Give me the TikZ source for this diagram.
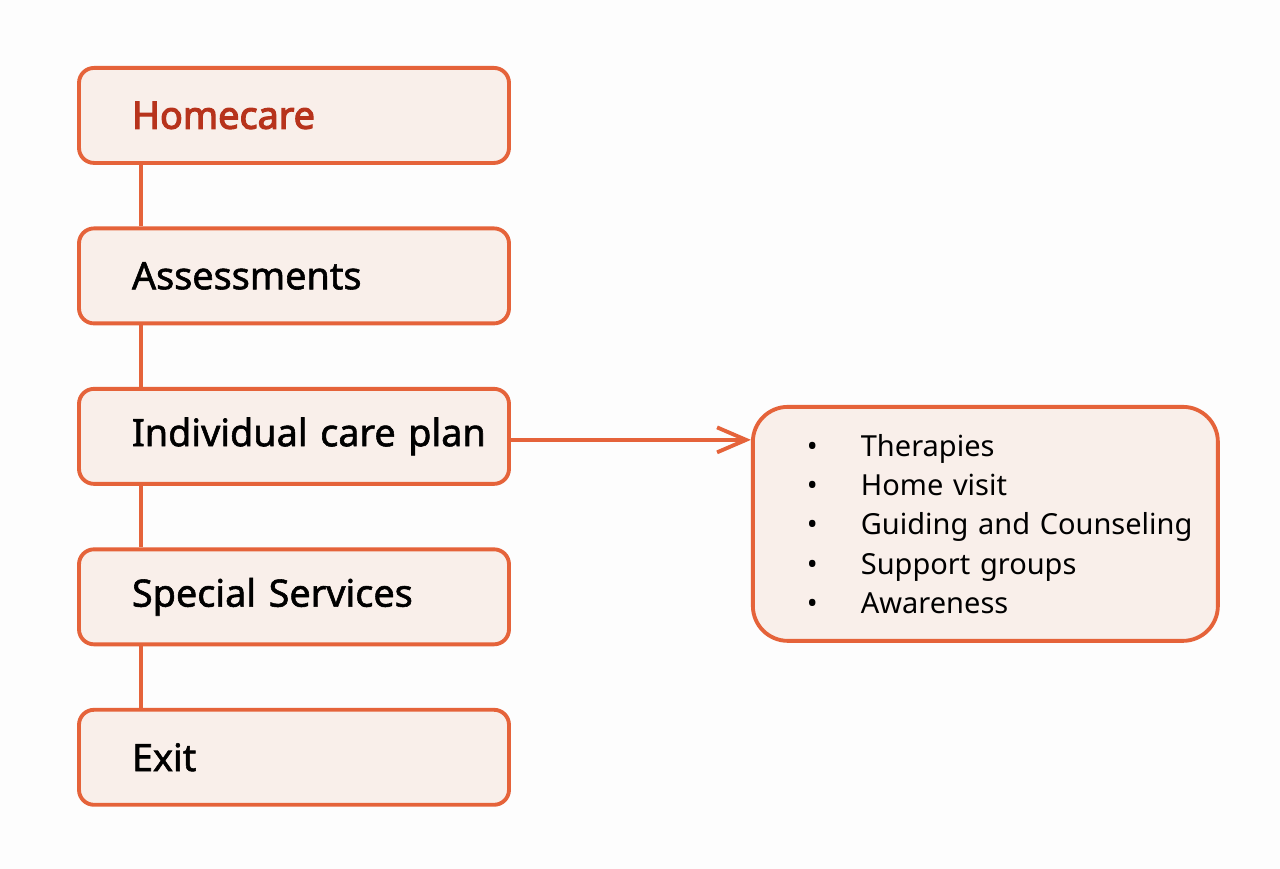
\documentclass[tikz,border=0pt]{standalone}
\usepackage{fontspec}
\setmainfont{Noto Sans}
\newfontfamily\labelfont{Noto Sans}[FakeBold=1.5]
\newfontfamily\headfont{Noto Sans}[FakeBold=3]
\usepackage{xcolor}
\usetikzlibrary{positioning}
\usetikzlibrary{arrows.meta}
\definecolor{careorange}{HTML}{E5633A}
\definecolor{carefill}{HTML}{F9EFEA}
\definecolor{carered}{HTML}{B7331C}
\newcommand{\careitem}[1]{\hspace*{0.78cm}\makebox[1.08cm][l]{•}#1}

\begin{document}
\begin{tikzpicture}[
    stage/.style={draw=careorange, fill=carefill, line width=2.2pt, rounded corners=0.3cm,
      minimum height=1.9cm, text width=7.96cm, inner xsep=0.32cm, align=left,
      font=\labelfont\fontsize{21.5}{26}\selectfont},
    link/.style={draw=careorange, line width=2.2pt}]
    \useasboundingbox[fill=white!99.3!black] (0,0) rectangle (25.6,-17.38);
    \node(homecare) [stage, anchor=north, text=carered, font=\headfont\fontsize{21.5}{26}\selectfont] at (5.88,-1.32) {\hspace*{0.74cm}Homecare};
    \node(assess) [stage, below = 1.232cm of homecare] {\hspace*{0.74cm}Assessments};
    \node(plan) [stage, below = 1.232cm of assess] {\hspace*{0.74cm}Individual care plan};
    \node(special) [stage, below = 1.232cm of plan] {\hspace*{0.74cm}Special Services};
    \node(exit) [stage, below = 1.232cm of special] {\hspace*{0.74cm}Exit};
    \node(services) [right = 4.8cm of plan, yshift=-1.75cm, draw=careorange, fill=carefill,
      line width=2.2pt, rounded corners=0.7cm, minimum height=4.68cm, text width=8.7cm,
      inner xsep=0.3cm, align=left, font=\fontsize{16.5}{22.4}\selectfont]
      {\careitem{Therapies}\\ \careitem{Home visit}\\ \careitem{Guiding and Counseling}\\
       \careitem{Support groups}\\ \careitem{Awareness}};

    \draw [link] ([xshift=1.28cm]homecare.south west) -- ([xshift=1.28cm]assess.north west);
    \draw [link] ([xshift=1.28cm]assess.south west) -- ([xshift=1.28cm]plan.north west);
    \draw [link] ([xshift=1.28cm]plan.south west) -- ([xshift=1.28cm]special.north west);
    \draw [link] ([xshift=1.28cm]special.south west) -- ([xshift=1.28cm]exit.north west);
    \draw [link, -{Straight Barb[length=0.58cm, width=0.5cm]}] ([yshift=-0.07cm]plan.east) -- ([yshift=-0.07cm]plan.east -| services.west);
\end{tikzpicture}
\end{document}
